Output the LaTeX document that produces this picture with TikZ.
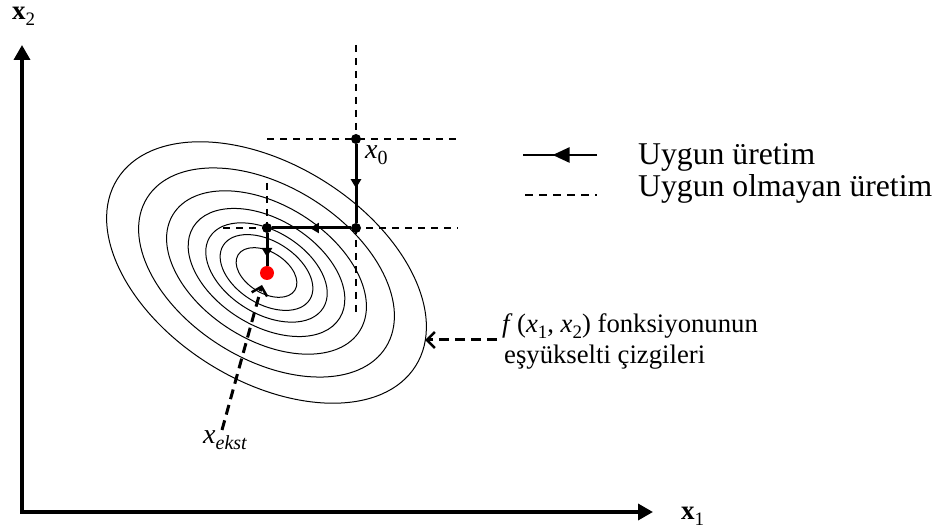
\RequirePackage{fix-cm}
\documentclass[tikz,border=0pt]{standalone}
\usepackage{fontspec}
\setmainfont{Liberation Serif}
\usetikzlibrary{arrows.meta,decorations.markings}
\newcommand\vsub[3]{#1{\fontsize{#3}{#3}\selectfont\raisebox{-0.28em}{#2}}}
\tikzset{
  axisline/.style={line width=3.5pt, miter limit=10},
  gridline/.style={line width=1.5pt, dash pattern=on 7pt off 6pt},
  ellline/.style={line width=1pt},
  pathline/.style={line width=3pt},
  dotnode/.style={circle, fill=black, inner sep=0pt, minimum size=10pt},
  reddot/.style={circle, fill=red, inner sep=0pt, minimum size=14pt},
  pointer/.style={line width=3pt, dash pattern=on 10pt off 6pt, -{Straight Barb[length=8pt,width=16pt,line width=2.5pt]}},
  midarrow/.style={postaction={decorate}, decoration={markings, mark=at position #1 with {\arrow{Triangle[length=9pt,width=10pt]}}}},
  legtext/.style={anchor=base west, inner sep=0pt, font=\fontsize{31.7}{38}\selectfont},
  labtext/.style={anchor=base west, inner sep=0pt, font=\fontsize{26.7}{32}\selectfont},
  mathlab/.style={anchor=base west, inner sep=0pt, font=\fontsize{28}{30}\selectfont},
  axlab/.style={anchor=base west, inner sep=0pt, font=\fontsize{27}{30}\selectfont},
}
\begin{document}
\begin{tikzpicture}[x=1pt,y=1pt]
\useasboundingbox (0,0) rectangle (943,530);
% axes
\coordinate (ytip) at (22,485);
\coordinate (orig) at (22,18);
\coordinate (xtip) at (653,18);
\draw[axisline, {Triangle[length=15pt,width=16pt]}-{Triangle[length=15pt,width=16pt]}] (ytip) |- (xtip);
\node[axlab] (lx2) at (12,510) {\vsub{\textbf{x}}{2}{19}};
\node[axlab] (lx1) at (681,10) {\vsub{\textbf{x}}{1}{19}};
% contour ellipses
\coordinate (ctr) at (266.5,257.5);
\foreach \k in {1,0.8,0.625,0.49,0.38,0.29,0.19}{
  \draw[ellline, rotate around={-32:(ctr)}] (ctr) ellipse [x radius={176*\k}, y radius={108*\k}];
}
% dashed grid lines
\coordinate (v1a) at (356,485); \coordinate (v1b) at (356,212);
\coordinate (h1a) at (267,391); \coordinate (h1b) at (457,391);
\coordinate (h2a) at (223,302); \coordinate (h2b) at (458,302);
\coordinate (v2a) at (267,347); \coordinate (v2b) at (267,302);
\draw[gridline] (v1a) -- (v1b);
\draw[gridline] (h1a) -- (h1b);
\draw[gridline] (h2a) -- (h2b);
\draw[gridline] (v2a) -- (v2b);
% points
\node[dotnode] (p0) at (356,391) {};
\node[dotnode] (p1) at (356,302) {};
\node[dotnode] (p2) at (267,302) {};
\node[reddot] (opt) at (267,257) {};
\draw[pathline, midarrow=0.56] (p0) -- (p1);
\draw[pathline, midarrow=0.52] (p1) -- (p2);
\draw[pathline, midarrow=0.73] (p2) -- (opt);
\node[mathlab] (lx0) at (365,371) {\vsub{\textit{x}}{0}{20}};
% x_ekst pointer
\coordinate (ekA) at (222,100);
\coordinate (ekB) at (262,245);
\draw[pointer] (ekA) -- (ekB);
\node[mathlab] (lek) at (203,86) {\vsub{\textit{x}}{\textit{ekst}}{20}};
% contour label pointer
\coordinate (fA) at (497,190);
\coordinate (fB) at (425,190);
\draw[pointer] (fA) -- (fB);
\node[labtext] (lf1) at (502,197) {\textit{f}\,(\vsub{\textit{x}}{1}{19}, \vsub{\textit{x}}{2}{19}) fonksiyonunun};
\node[labtext] (lf2) at (504,166) {eşyükselti çizgileri};
% legend
\coordinate (la) at (597,375); \coordinate (lb) at (523,375);
\draw[line width=2.7pt, postaction={decorate}, decoration={markings, mark=at position 0.6 with {\arrow{Triangle[length=17pt,width=15pt]}}}] (la) -- (lb);
\coordinate (lc) at (525,335); \coordinate (ld) at (597,335);
\draw[line width=1.3pt, dash pattern=on 8pt off 6pt] (lc) -- (ld);
\node[legtext] (lt1) at (638,365) {Uygun üretim};
\node[legtext] (lt2) at (638,333) {Uygun olmayan üretim};
\end{tikzpicture}
\end{document}
